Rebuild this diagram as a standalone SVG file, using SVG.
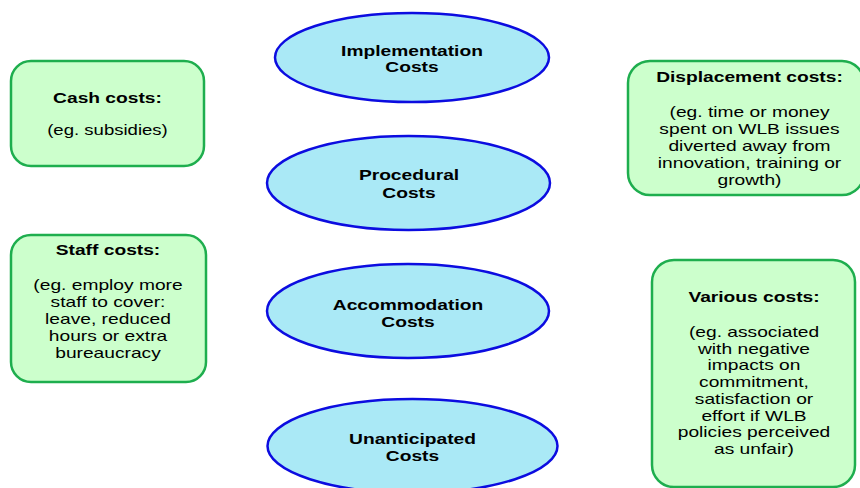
<svg xmlns="http://www.w3.org/2000/svg" width="860" height="488" viewBox="0 0 860 488">
<style>
.ell{fill:#aae9f6;stroke:#0c0ce0;stroke-width:2.5}
.box{fill:#ccffcc;stroke:#1eae4e;stroke-width:2.5}
text{font-family:"Liberation Sans",Arial,sans-serif;font-size:15px;fill:#000;text-anchor:middle}
.b{font-weight:bold}
.s{font-size:14.5px}
</style>
<rect width="860" height="488" fill="#ffffff"/>
<g id="connectors"></g>
<g id="implementation">
<ellipse class="ell" cx="412" cy="57.5" rx="137" ry="44.5"/>
<g transform="translate(412,0) scale(1.28,1)"><text class="b" x="0" y="56">Implementation</text><text class="b" x="0" y="72.5">Costs</text></g>
</g>
<g id="procedural">
<ellipse class="ell" cx="408.5" cy="183" rx="141.5" ry="47"/>
<g transform="translate(409,0) scale(1.28,1)"><text class="b" x="0" y="180">Procedural</text><text class="b" x="0" y="198">Costs</text></g>
</g>
<g id="accommodation">
<ellipse class="ell" cx="408" cy="311" rx="141" ry="47"/>
<g transform="translate(408,0) scale(1.28,1)"><text class="b" x="0" y="310">Accommodation</text><text class="b" x="0" y="327">Costs</text></g>
</g>
<g id="unanticipated">
<ellipse class="ell" cx="412.5" cy="446" rx="145" ry="47"/>
<g transform="translate(412.5,0) scale(1.28,1)"><text class="b" x="0" y="444">Unanticipated</text><text class="b" x="0" y="461">Costs</text></g>
</g>
<g id="cash">
<rect class="box" x="11" y="61" width="193" height="105" rx="20"/>
<g transform="translate(107.5,0) scale(1.28,1)"><text class="b" x="0" y="103">Cash costs:</text><text class="s" x="0" y="135">(eg. subsidies)</text></g>
</g>
<g id="staff">
<rect class="box" x="11" y="235" width="195" height="147" rx="20"/>
<g transform="translate(108,0) scale(1.28,1)"><text class="b" x="0" y="255">Staff costs:</text><text x="0" y="290.5">(eg. employ more</text><text x="0" y="307.5">staff to cover:</text><text x="0" y="324">leave, reduced</text><text x="0" y="341">hours or extra</text><text x="0" y="358">bureaucracy</text></g>
</g>
<g id="displacement">
<rect class="box" x="628" y="61" width="236" height="134" rx="22"/>
<g transform="translate(749.5,0) scale(1.28,1)"><text class="b" x="0" y="82">Displacement costs:</text><text x="0" y="117">(eg. time or money</text><text x="0" y="134">spent on WLB issues</text><text x="0" y="151">diverted away from</text><text x="0" y="168">innovation, training or</text><text x="0" y="185">growth)</text></g>
</g>
<g id="various">
<rect class="box" x="652" y="260" width="203" height="227" rx="22"/>
<g transform="translate(754,0) scale(1.28,1)"><text class="b" x="0" y="302">Various costs:</text><text x="0" y="337">(eg. associated</text><text x="0" y="354">with negative</text><text x="0" y="370.5">impacts on</text><text x="0" y="387">commitment,</text><text x="0" y="404">satisfaction or</text><text x="0" y="421">effort if WLB</text><text x="0" y="437.5">policies perceived</text><text x="0" y="454">as unfair)</text></g>
</g>
</svg>
